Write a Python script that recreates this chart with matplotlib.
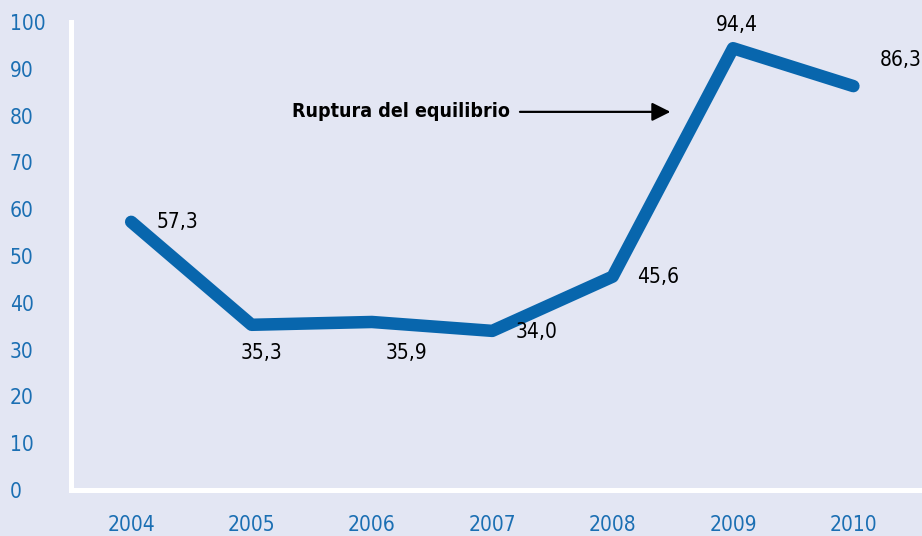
import matplotlib
matplotlib.use("Agg")
import matplotlib.pyplot as plt

years = [2004, 2005, 2006, 2007, 2008, 2009, 2010]
values = [57.3, 35.3, 35.9, 34.0, 45.6, 94.4, 86.3]
value_labels = ["57,3", "35,3", "35,9", "34,0", "45,6", "94,4", "86,3"]
y_ticks = [0, 10, 20, 30, 40, 50, 60, 70, 80, 90, 100]
note_text = "Ruptura del equilibrio"

# label offsets in points (x, y) relative to each point
label_offsets = [(33, 0), (7, -20), (25, -22), (32, -1), (33, 0), (3, 17), (34, 19)]

BG = "#e3e6f3"
LINE = "#0866ad"
TICK = "#1b6fb3"

plt.rcParams["font.family"] = ["DejaVu Sans"]
plt.rcParams["font.stretch"] = "condensed"

fig = plt.figure(figsize=(9.22, 5.36), dpi=100, facecolor=BG)
ax = fig.add_axes([71 / 922, 46 / 536, 851 / 922, 468 / 536])
ax.set_facecolor(BG)

ax.plot(years, values, color=LINE, linewidth=9,
        solid_capstyle="round", solid_joinstyle="round", zorder=3)

for x, y, lab, (dx, dy) in zip(years, values, value_labels, label_offsets):
    ax.annotate(lab, (x, y), xytext=(dx, dy), textcoords="offset points",
                ha="center", va="center", fontsize=15, color="black")

# arrow pointing at the 2008-2009 jump
ax.annotate("", xy=(2008.48, 80.8), xytext=(2007.23, 80.8),
            arrowprops=dict(arrowstyle="-|>", color="black", lw=1.6,
                            mutation_scale=28, shrinkA=0, shrinkB=0))
ax.text(2007.15, 80.8, note_text, ha="right", va="center",
        fontsize=14, fontweight="bold", color="black")

ax.set_xlim(2003.5, 2010.57)
ax.set_ylim(0, 100)
ax.set_xticks(years)
ax.set_xticklabels([str(y) for y in years])
ax.set_yticks(y_ticks)
ax.set_yticklabels([str(t) for t in y_ticks], ha="left")

ax.tick_params(axis="both", length=0, labelsize=15, labelcolor=TICK)
ax.tick_params(axis="y", pad=44)
ax.tick_params(axis="x", pad=18)

for side in ["top", "right"]:
    ax.spines[side].set_visible(False)
for side in ["left", "bottom"]:
    ax.spines[side].set_color("white")
    ax.spines[side].set_linewidth(3.6)

fig.savefig("out.png", dpi=100, facecolor=BG)
